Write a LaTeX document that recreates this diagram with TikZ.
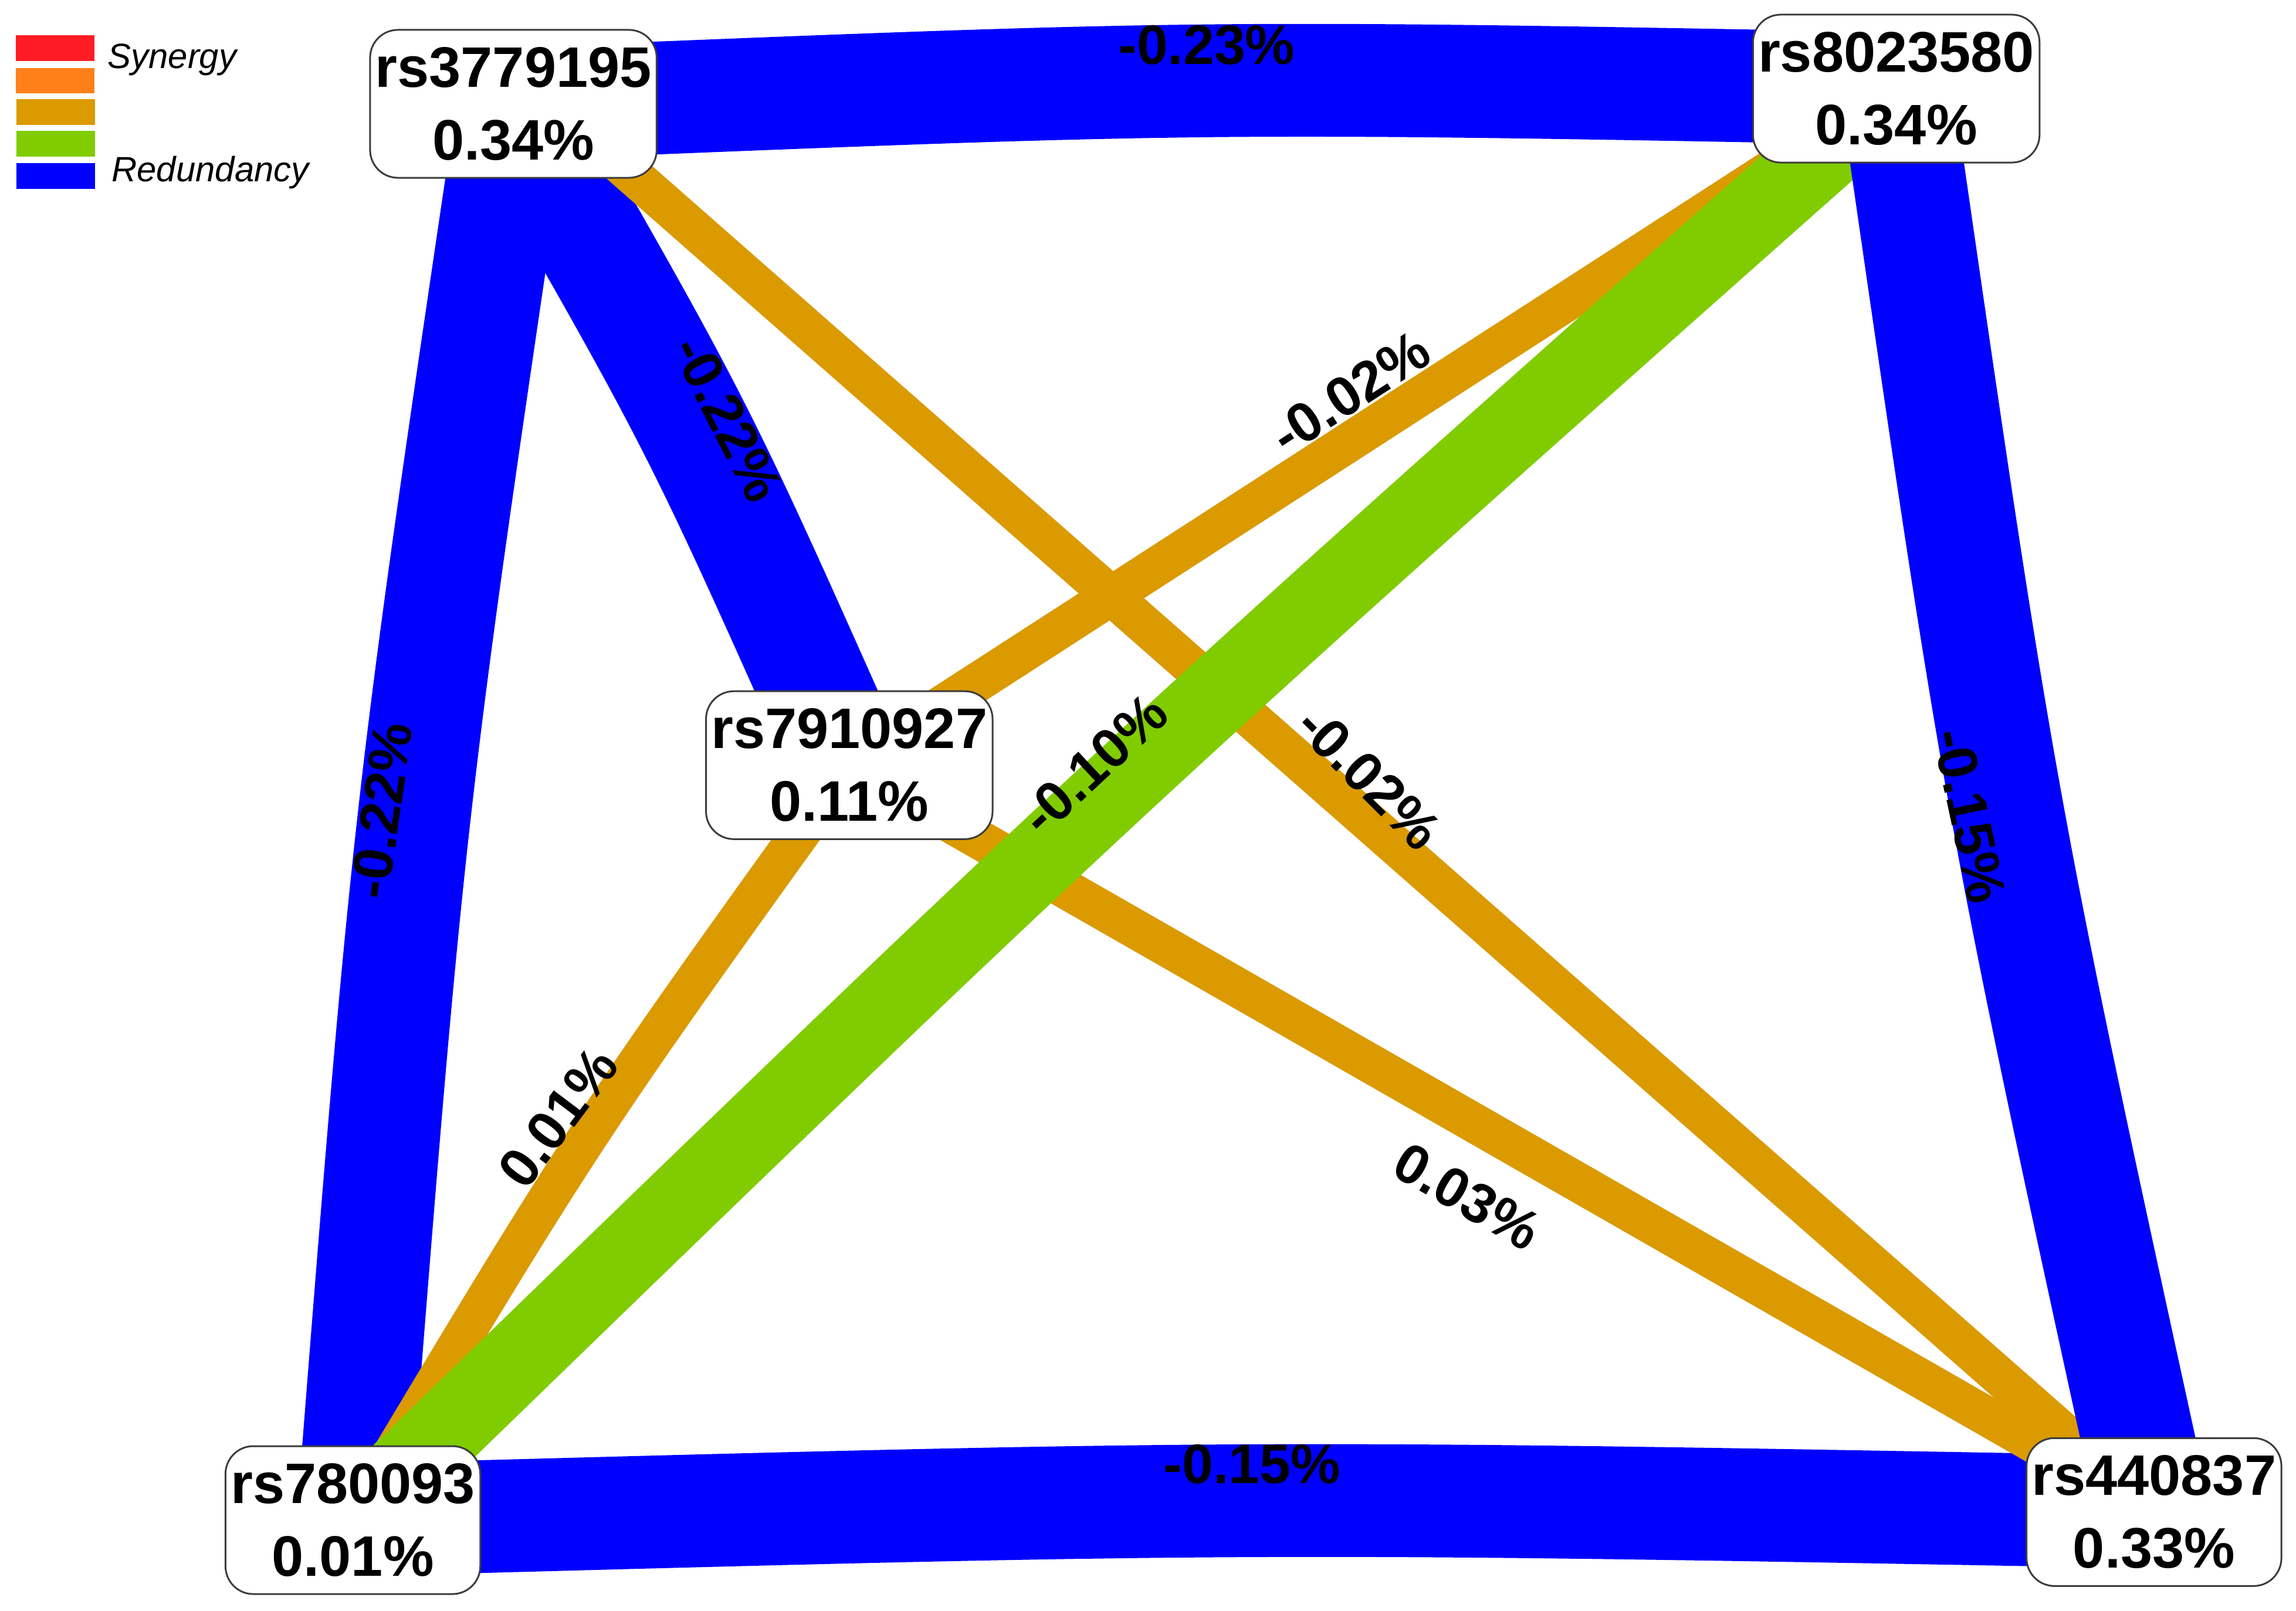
\documentclass[tikz,border=0pt]{standalone}
\usepackage{fontspec}
\setmainfont{Liberation Sans}
\usetikzlibrary{calc}
\pgfdeclarelayer{bg}
\pgfdeclarelayer{edges}
\pgfsetlayers{bg,edges,main}
\definecolor{cred}{RGB}{255,28,36}
\definecolor{corange}{RGB}{255,128,25}
\definecolor{cgold}{RGB}{218,154,0}
\definecolor{cgreen}{RGB}{128,204,0}
\definecolor{cblue}{RGB}{0,0,255}
\definecolor{cborder}{RGB}{60,60,60}
\begin{document}
\begin{tikzpicture}[x=1pt,y=-1pt,
  snp/.style={draw=cborder, line width=1.2pt, fill=white, rounded corners=19pt,
    align=center, font=\fontsize{39}{49.6}\selectfont\bfseries,
    inner xsep=3.5pt, inner ysep=0pt, minimum height=101pt},
  lbl/.style={font=\fontsize{38}{40}\selectfont\bfseries, inner sep=0pt},
  leg/.style={font=\fontsize{24}{26}\selectfont\itshape, inner sep=0pt, anchor=base west},
  blueedge/.style={draw=cblue, line width=77pt},
  goldedge/.style={draw=cgold, line width=27pt},
  greenedge/.style={draw=cgreen, line width=54pt}]
\useasboundingbox (0,0) rectangle (1568,1100);
\begin{pgfonlayer}{bg}
\fill[white] (0,0) rectangle (1568,1100);
\end{pgfonlayer}

% legend
\fill[cred] (10.7,24) rectangle (64.4,41.7);
\fill[corange] (10.7,46.4) rectangle (64.4,63.7);
\fill[cgold] (11.1,67.8) rectangle (64.7,85.2);
\fill[cgreen] (11.1,89.5) rectangle (64.7,106.8);
\fill[cblue] (11.1,111.5) rectangle (64.7,128.9);
\node[leg] (syn) at (73.3,46.8) {Synergy};
\node[leg] (redn) at (76,124) {Redundancy};

% nodes
\node[snp] (A) at (350.6,70.9) {rs3779195\\0.34\%};
\node[snp] (B) at (1295,60.5) {rs8023580\\0.34\%};
\node[snp] (C) at (580,522.5) {rs7910927\\0.11\%};
\node[snp] (D) at (241,1038) {rs780093\\0.01\%};
\node[snp] (E) at (1471,1032.5) {rs440837\\0.33\%};

% edges
\begin{pgfonlayer}{edges}
\draw[blueedge] (A.center) .. controls ($(A.center)!0.5!(B.center)!14pt!90:(B.center)$) .. (B.center);
\draw[blueedge] (A.center) .. controls ($(A.center)!0.5!(D.center)!16.7pt!-90:(D.center)$) .. (D.center);
\draw[blueedge] (D.center) .. controls ($(D.center)!0.5!(E.center)!14pt!90:(E.center)$) .. (E.center);
\draw[blueedge] (A.center) .. controls ($(A.center)!0.5!(C.center)!13pt!90:(C.center)$) .. (C.center);
\draw[goldedge] ([xshift=26pt]A.center) -- (E.center);
\draw[goldedge] (B.center) -- (C.center);
\draw[goldedge] (C.center) .. controls ($(C.center)!0.5!(D.center)!13pt!-90:(D.center)$) .. (D.center);
\draw[goldedge] (C.center) -- (E.center);
\draw[greenedge] (B.center) .. controls ($(B.center)!0.5!(D.center)!16pt!-90:(D.center)$) .. (D.center);
\draw[blueedge] (B.center) .. controls ($(B.center)!0.5!(E.center)!17.7pt!-90:(E.center)$) .. (E.center);
\end{pgfonlayer}

% edge labels
\node[lbl] (lAB) at (824,31) {-0.23\%};
\node[lbl, rotate=82] (lAD) at (260.4,553.5) {-0.22\%};
\node[lbl, rotate=-63] (lAC) at (497,286) {-0.22\%};
\node[lbl, rotate=-78] (lBE) at (1345,557) {-0.15\%};
\node[lbl] (lDE) at (855,1000) {-0.15\%};
\node[lbl, rotate=43] (lBD) at (747,522) {-0.10\%};
\node[lbl, rotate=-45] (lAE) at (935,531) {-0.02\%};
\node[lbl, rotate=33] (lBC) at (922,268) {-0.02\%};
\node[lbl, rotate=53] (lCD) at (381,763) {0.01\%};
\node[lbl, rotate=-30] (lCE) at (1002,817) {0.03\%};
\end{tikzpicture}
\end{document}
